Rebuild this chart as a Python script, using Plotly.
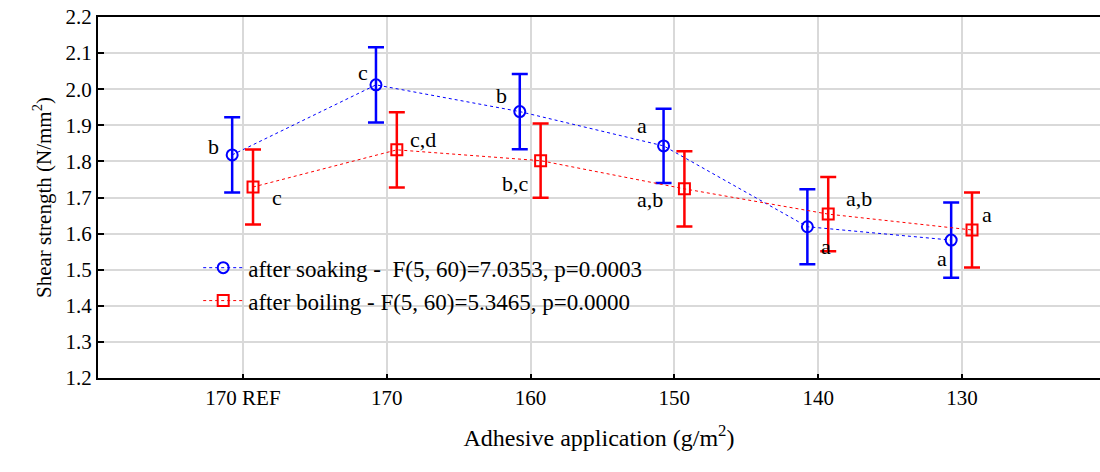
import plotly.graph_objects as go

categories = ["170 REF", "170", "160", "150", "140", "130"]
soaking_mean = [1.818, 2.012, 1.938, 1.843, 1.619, 1.582]
soaking_err = [0.104, 0.104, 0.104, 0.103, 0.104, 0.104]
boiling_mean = [1.729, 1.832, 1.802, 1.724, 1.654, 1.610]
boiling_err = [0.104, 0.104, 0.103, 0.104, 0.103, 0.104]
soaking_letters = ["b", "c", "b", "a", "a", "a"]
boiling_letters = ["c", "c,d", "b,c", "a,b", "a,b", "a"]
soaking_name = "after soaking -  F(5, 60)=7.0353, p=0.0003"
boiling_name = "after boiling - F(5, 60)=5.3465, p=0.0000"

# label offsets in pixels (layout only)
soak_off = [(-19, -8), (-13, -12), (-18, -16), (-22, -20), (19, 20), (-9, 18)]
boil_off = [(24, 10), (26, -10), (-25, 23), (-34, 11), (31, -16), (15, -15)]

idx = list(range(len(categories)))
xs_soak = [i - 0.075 for i in idx]
xs_boil = [i + 0.07 for i in idx]

FONT = "Liberation Serif"
BLUE = "#0000ff"
RED = "#ff0000"

fig = go.Figure()
fig.add_trace(go.Scatter(
    x=xs_soak, y=soaking_mean, name=soaking_name, mode="lines+markers",
    legendgroup="s",
    line=dict(color=BLUE, width=1, dash="3px,3px"),
    marker=dict(symbol="circle-open", size=11, color=BLUE, line=dict(width=2, color=BLUE)),
    error_y=dict(type="data", array=soaking_err, color=BLUE, thickness=2.5, width=8),
))
fig.add_trace(go.Scatter(
    x=xs_boil, y=boiling_mean, name=boiling_name, mode="lines+markers",
    legendgroup="b",
    line=dict(color=RED, width=1, dash="3px,3px"),
    marker=dict(symbol="square-open", size=11, color=RED, line=dict(width=2, color=RED)),
    error_y=dict(type="data", array=boiling_err, color=RED, thickness=2.5, width=8),
))

annotations = []
for i in idx:
    annotations.append(dict(x=xs_soak[i], y=soaking_mean[i], text=soaking_letters[i],
                            xref="x", yref="y", showarrow=False,
                            xshift=soak_off[i][0], yshift=-soak_off[i][1],
                            font=dict(family=FONT, size=22, color="black")))
    annotations.append(dict(x=xs_boil[i], y=boiling_mean[i], text=boiling_letters[i],
                            xref="x", yref="y", showarrow=False,
                            xshift=boil_off[i][0], yshift=-boil_off[i][1],
                            font=dict(family=FONT, size=22, color="black")))

fig.update_layout(
    width=1100, height=472,
    margin=dict(l=98, r=0, t=17, b=94),
    paper_bgcolor="white", plot_bgcolor="white",
    font=dict(family=FONT, size=21, color="black"),
    showlegend=True,
    legend=dict(x=0.1, y=0.365, xanchor="left", yanchor="top",
                bgcolor="rgba(0,0,0,0)", font=dict(family=FONT, size=23),
                tracegroupgap=0, itemwidth=40),
    annotations=annotations,
    xaxis=dict(
        range=[-1.008, 5.96], tickvals=idx, ticktext=categories,
        automargin=False,
        showgrid=True, gridcolor="#d9d9d9", gridwidth=2,
        showline=True, linecolor="black", linewidth=2, mirror=True,
        ticks="inside", ticklen=4, tickcolor="black", tickwidth=2,
        zeroline=False,
        tickfont=dict(family=FONT, size=21),
        title=dict(text="Adhesive application (g/m<sup>2</sup>)",
                   font=dict(family=FONT, size=24), standoff=20),
    ),
    yaxis=dict(
        range=[1.2, 2.2], dtick=0.1, tick0=1.2, tickformat=".1f",
        automargin=False, side="left",
        showgrid=True, gridcolor="#d9d9d9", gridwidth=2,
        showline=True, linecolor="black", linewidth=2, mirror=False,
        ticks="inside", ticklen=6, tickcolor="black", tickwidth=2,
        zeroline=False,
        tickfont=dict(family=FONT, size=21),
        title=dict(text="Shear strength (N/mm<sup>2</sup>)",
                   font=dict(family=FONT, size=21), standoff=8),
    ),
)

fig.write_html("out.html", config={"displayModeBar": False},
               post_script="document.body.style.margin='0';document.body.style.overflow='hidden';")
